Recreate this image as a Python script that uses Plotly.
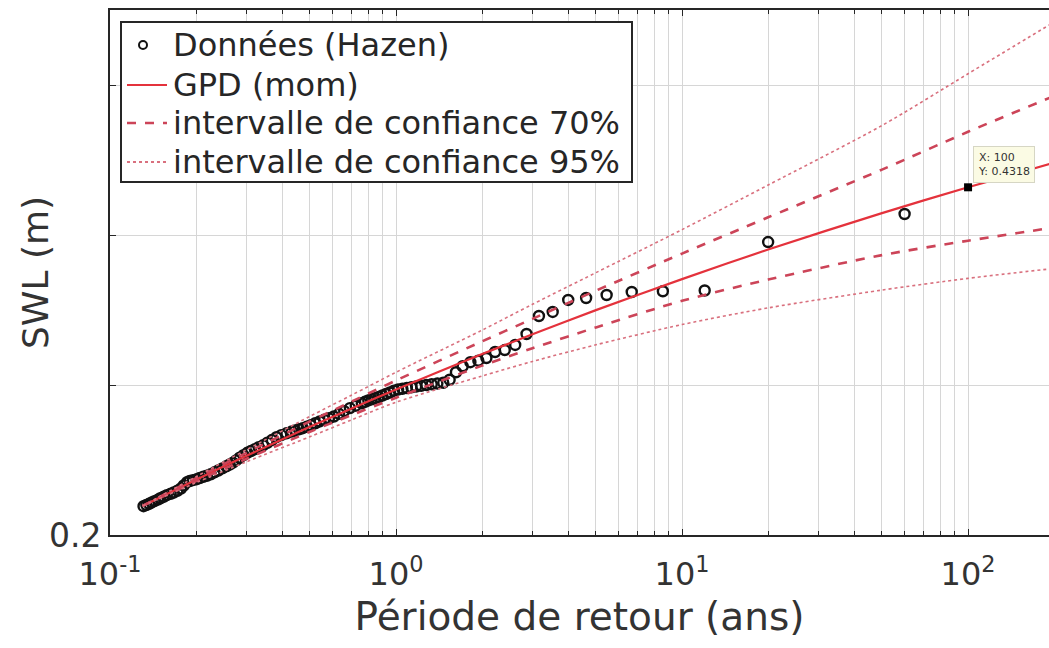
import plotly.graph_objects as go

# Observed extreme water levels, Hazen plotting positions (return period in years, SWL in m)
obs_period = [60.0, 20.0, 12.0, 8.57, 6.67, 5.45, 4.62, 4.00, 3.53, 3.16,
              2.86, 2.61, 2.40, 2.22, 2.07, 1.94, 1.82, 1.71, 1.62, 1.54,
              1.463, 1.395, 1.333, 1.277, 1.224, 1.176, 1.132, 1.091, 1.053, 1.017,
              0.984, 0.952, 0.923, 0.896, 0.870, 0.845, 0.822, 0.800, 0.779, 0.759,
              0.723, 0.690, 0.659, 0.632, 0.606, 0.583, 0.561, 0.541, 0.522, 0.504,
              0.488, 0.472, 0.458, 0.444, 0.432, 0.414, 0.397, 0.382, 0.368, 0.355,
              0.343, 0.331, 0.321, 0.311, 0.302, 0.293, 0.284, 0.276, 0.269, 0.262,
              0.255, 0.247, 0.239, 0.232, 0.225, 0.218, 0.212, 0.206, 0.201, 0.195,
              0.190, 0.186, 0.181, 0.177, 0.172, 0.167, 0.163, 0.158, 0.154, 0.150,
              0.147, 0.143, 0.140, 0.137, 0.134, 0.131]
obs_swl = [0.4140, 0.3953, 0.3630, 0.3625, 0.3620, 0.3600, 0.3580, 0.3567, 0.3487, 0.3460,
           0.3340, 0.3267, 0.3233, 0.3220, 0.3180, 0.3162, 0.3152, 0.3125, 0.3085, 0.3035,
           0.3015, 0.3010, 0.3005, 0.3000, 0.2995, 0.2990, 0.2985, 0.2980, 0.2975, 0.2970,
           0.2962, 0.2950, 0.2940, 0.2930, 0.2920, 0.2912, 0.2905, 0.2897, 0.2888, 0.2878,
           0.2862, 0.2846, 0.2826, 0.2808, 0.2790, 0.2778, 0.2768, 0.2757, 0.2745, 0.2732,
           0.2722, 0.2712, 0.2705, 0.2697, 0.2690, 0.2678, 0.2666, 0.2652, 0.2633, 0.2615,
           0.2598, 0.2585, 0.2572, 0.2560, 0.2548, 0.2532, 0.2515, 0.2497, 0.2482, 0.2470,
           0.2458, 0.2444, 0.2430, 0.2418, 0.2405, 0.2395, 0.2388, 0.2380, 0.2372, 0.2366,
           0.2360, 0.2352, 0.2330, 0.2310, 0.2295, 0.2283, 0.2275, 0.2266, 0.2255, 0.2245,
           0.2236, 0.2226, 0.2217, 0.2208, 0.2200, 0.2192]

# GPD (method of moments) return levels and confidence bounds
fit_period = [0.13, 0.2, 0.3, 0.5, 0.7, 1, 2, 3, 5, 10, 20, 50, 100, 200]
gpd_mom = [0.2194, 0.2369, 0.2528, 0.2721, 0.2843, 0.2970, 0.3206, 0.3338, 0.3499,
           0.3706, 0.3903, 0.4146, 0.4318, 0.4482]
ci95_upper = [0.2194, 0.2389, 0.2568, 0.2791, 0.2933, 0.3085, 0.3366, 0.3538, 0.3749,
              0.4036, 0.4333, 0.4730, 0.5075, 0.5420]
ci70_upper = [0.2194, 0.2379, 0.2548, 0.2757, 0.2890, 0.3030, 0.3291, 0.3441, 0.3629,
              0.3876, 0.4118, 0.4436, 0.4688, 0.4927]
ci70_lower = [0.2194, 0.2359, 0.2508, 0.2688, 0.2800, 0.2915, 0.3129, 0.3245, 0.3384,
              0.3561, 0.3703, 0.3866, 0.3962, 0.4050]
ci95_lower = [0.2194, 0.2349, 0.2488, 0.2655, 0.2768, 0.2885, 0.3060, 0.3157, 0.3268,
              0.3403, 0.3514, 0.3633, 0.3711, 0.3777]

# Data tip on the 100-year return level
tip_period = 100
tip_level = 0.4318

x_major = [0.1, 1, 10, 100]
x_major_text = ["10<sup>-1</sup>", "10<sup>0</sup>", "10<sup>1</sup>", "10<sup>2</sup>"]
x_minor = [0.2, 0.3, 0.4, 0.5, 0.6, 0.7, 0.8, 0.9,
           2, 3, 4, 5, 6, 7, 8, 9,
           20, 30, 40, 50, 60, 70, 80, 90, 200]
y_ticks = [0.2, 0.3, 0.4, 0.5]
y_tick_text = ["0.2", "", "", ""]

legend_labels = ["Données (Hazen)", "GPD (mom)",
                 "intervalle de confiance 70%", "intervalle de confiance 95%"]

FONT = "DejaVu Sans"
INK = "#262626"
TXT = "#333333"
GRID = "#d6d6d6"
RED = "#e4323c"
DASH_RED = "#cc4458"
DOT_RED = "#d9707e"

W, H = 1049, 648
ML, MR, MT, MB = 110, 0, 10, 113
PW, PH = W - ML - MR, H - MT - MB


def px(x):
    """Horizontal pixel -> paper fraction."""
    return (x - ML) / PW


def py(y):
    """Vertical pixel (from top) -> paper fraction."""
    return (H - MB - y) / PH


fig = go.Figure()

fig.add_trace(go.Scatter(
    x=obs_period, y=obs_swl, mode="markers", showlegend=False,
    marker=dict(symbol="circle-open", size=10, color="#111111", line=dict(width=2.4)),
))
line_specs = [
    (gpd_mom, RED, 2.2, "solid"),
    (ci70_upper, DASH_RED, 2.6, "dash"),
    (ci95_upper, DOT_RED, 1.6, "dot"),
    (ci70_lower, DASH_RED, 2.6, "dash"),
    (ci95_lower, DOT_RED, 1.6, "dot"),
]
for values, colour, width, dash in line_specs:
    fig.add_trace(go.Scatter(
        x=fit_period, y=values, mode="lines", showlegend=False,
        line=dict(color=colour, width=width, dash=dash, shape="spline", smoothing=0.8),
    ))
fig.add_trace(go.Scatter(
    x=[tip_period], y=[tip_level], mode="markers", showlegend=False,
    marker=dict(symbol="square", size=8, color="#000000"),
))

fig.add_annotation(
    x=2, y=tip_level, xref="x", yref="y",
    text=f"X: {tip_period}<br>Y: {tip_level}",
    showarrow=False, xanchor="left", yanchor="bottom", align="left",
    xshift=5, yshift=4,
    font=dict(family=FONT, size=11, color="#333333"),
    bgcolor="#fbfbe4", bordercolor="#d6d6c4", borderwidth=1, borderpad=4,
)

# Legend box drawn on the paper
shapes = [dict(type="rect", xref="paper", yref="paper",
               x0=px(121), x1=px(632), y0=py(182), y1=py(22),
               line=dict(color=INK, width=2), fillcolor="white", layer="above")]
row_y = [45, 85, 123, 162]
shapes.append(dict(type="circle", xref="paper", yref="paper",
                   x0=px(139), x1=px(147), y0=py(row_y[0] + 4), y1=py(row_y[0] - 4),
                   line=dict(color="#111111", width=2), layer="above"))
for ry, colour, width, dash in [(row_y[1], RED, 2.2, "solid"),
                                (row_y[2], DASH_RED, 2.6, "dash"),
                                (row_y[3], DOT_RED, 1.8, "dot")]:
    shapes.append(dict(type="line", xref="paper", yref="paper",
                       x0=px(127), x1=px(167), y0=py(ry), y1=py(ry),
                       line=dict(color=colour, width=width, dash=dash), layer="above"))
for ry, label in zip(row_y, legend_labels):
    fig.add_annotation(
        x=px(171), y=py(ry), xref="paper", yref="paper",
        text=label, showarrow=False, xanchor="left", yanchor="middle",
        font=dict(family=FONT, size=32, color=INK),
    )

# Vertical axis title
fig.add_annotation(
    x=px(35), y=py(273), xref="paper", yref="paper",
    text="SWL (m)", textangle=-90, showarrow=False,
    xanchor="center", yanchor="middle",
    font=dict(family=FONT, size=36, color=TXT),
)

fig.update_layout(
    width=W, height=H,
    margin=dict(l=ML, r=MR, t=MT, b=MB),
    paper_bgcolor="white", plot_bgcolor="white",
    font=dict(family=FONT, color=INK),
    showlegend=False,
    shapes=shapes,
    xaxis=dict(
        type="log", range=[-1, 2.283],
        tickmode="array", tickvals=x_major, ticktext=x_major_text,
        ticks="inside", ticklen=6, tickcolor=INK, tickwidth=1.2,
        showline=True, linecolor=INK, linewidth=2, mirror="ticks",
        showgrid=True, gridcolor=GRID, gridwidth=1,
        minor=dict(tickvals=x_minor, ticks="inside", ticklen=4, tickcolor=INK,
                   showgrid=True, gridcolor=GRID, gridwidth=1),
        tickfont=dict(family=FONT, size=32, color=TXT),
        ticklabelstandoff=10,
        title=dict(text="Période de retour (ans)", standoff=10,
                   font=dict(family=FONT, size=39, color=TXT)),
        zeroline=False,
    ),
    yaxis=dict(
        range=[0.2, 0.55],
        tickmode="array", tickvals=y_ticks, ticktext=y_tick_text,
        ticks="inside", ticklen=6, tickcolor=INK, tickwidth=1.2,
        showline=True, linecolor=INK, linewidth=2, mirror=False,
        showgrid=True, gridcolor=GRID, gridwidth=1,
        tickfont=dict(family=FONT, size=33, color=TXT),
        zeroline=False,
    ),
)

fig.write_html("out.html")
